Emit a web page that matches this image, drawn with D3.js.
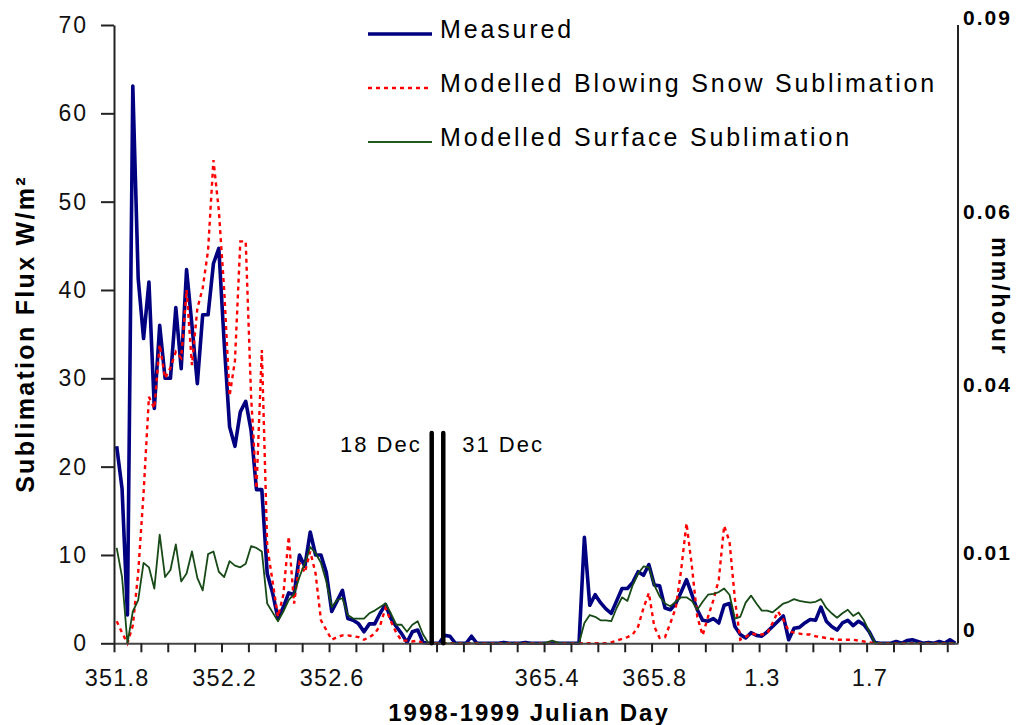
<!DOCTYPE html>
<html>
<head>
<meta charset="utf-8">
<script src="https://cdn.jsdelivr.net/npm/d3@7"></script>
<style>
  body { margin: 0; background: #fff; }
  svg { display: block; font-family: "Liberation Sans", Arial, sans-serif; }
</style>
</head>
<body>
<svg id="chart" width="1016" height="725"></svg>
<script>
// Half-hourly sublimation flux (W/m²), one value per category
const measured = [
  22.3, 17.5, 3.2, 63.1, 41.3, 34.5, 40.9, 26.6, 36.0, 30.0,
  30.0, 38.0, 31.1, 42.3, 36.0, 29.4, 37.2, 37.2, 43.0, 44.7,
  34.0, 24.5, 22.3, 26.2, 27.4, 24.1, 17.4, 17.4, 7.9, 5.7,
  2.8, 4.1, 5.7, 5.5, 10.0, 8.7, 12.6, 10.0, 10.0, 8.0,
  3.6, 4.8, 6.0, 2.8, 2.6, 2.2, 1.3, 2.2, 2.2, 3.4,
  4.4, 2.8, 1.9, 1.1, 0.1, 1.3, 1.5, 0.1, 0, 0,
  0, 0.9, 0.8, 0, 0, 0, 0.8, 0, 0, 0,
  0, 0, 0.1, 0, 0, 0, 0.1, 0, 0, 0,
  0, 0, 0, 0, 0, 0, 0, 12.0, 4.3, 5.5,
  4.6, 3.9, 3.4, 4.8, 6.2, 6.2, 6.9, 8.1, 7.7, 8.9,
  6.6, 6.5, 4.0, 3.8, 4.5, 5.8, 7.2, 5.5, 3.8, 2.6,
  2.5, 2.8, 2.3, 4.3, 4.5, 1.9, 1.0, 0.6, 1.2, 0.9,
  0.8, 1.3, 1.9, 2.5, 3.1, 0.4, 1.7, 1.8, 2.3, 2.7,
  2.6, 4.1, 2.5, 1.9, 1.5, 2.3, 2.6, 2.0, 2.5, 2.1,
  1.3, 0.1, 0, 0, 0, 0.2, 0, 0.3, 0.4, 0.2,
  0, 0.1, 0, 0.2, 0, 0.4, 0
];

const blowingSnow = [
  2.5, 1.2, 0, 2.0, 8.0, 17.0, 27.9, 26.6, 33.8, 30.0,
  31.2, 33.0, 32.3, 40.0, 31.5, 37.9, 40.2, 44.5, 54.7, 49.0,
  40.0, 28.0, 32.0, 45.5, 45.5, 28.0, 17.5, 33.2, 11.0, 7.0,
  3.0, 5.5, 12.1, 4.5, 9.1, 8.0, 10.4, 7.9, 2.6, 1.5,
  0.4, 0.7, 0.9, 0.9, 0.8, 0.7, 0.4, 0.7, 1.1, 2.0,
  4.0, 2.5, 1.2, 0.3, 0.3, 0.2, 0.3, 0, 0, 0,
  0, 0, 0, 0, 0, 0, 0, 0, 0, 0,
  0, 0, 0, 0, 0, 0, 0, 0, 0, 0,
  0, 0, 0, 0, 0, 0, 0, 0, 0, 0,
  0, 0, 0.1, 0.3, 0.5, 0.7, 1.0, 1.9, 4.0, 5.7,
  1.9, 0.6, 0.7, 2.3, 4.0, 8.3, 13.6, 8.7, 3.0, 0.9,
  3.0, 4.9, 7.2, 13.3, 11.5, 5.0, 0.4, 0.7, 1.1, 1.0,
  1.0, 1.1, 2.3, 3.6, 2.7, 1.4, 1.2, 1.1, 1.0, 1.0,
  0.8, 0.7, 0.6, 0.5, 0.4, 0.4, 0.4, 0.4, 0.3, 0.2,
  0.1, 0, 0, 0, 0, 0, 0, 0, 0, 0,
  0, 0, 0, 0, 0, 0, 0
];

const surface = [
  10.8, 7.5, 0, 3.6, 4.9, 9.1, 8.6, 6.2, 12.3, 7.5,
  8.3, 11.2, 7.0, 7.9, 10.4, 7.4, 6.0, 10.1, 10.4, 8.1,
  7.5, 9.3, 8.8, 8.6, 9.0, 11.0, 10.8, 10.4, 4.5, 3.5,
  2.5, 3.6, 4.9, 5.6, 7.5, 9.1, 10.9, 10.2, 9.1, 7.0,
  4.1, 4.9, 5.1, 3.2, 2.8, 2.8, 2.8, 3.4, 3.7, 4.1,
  4.5, 3.4, 2.1, 2.1, 1.3, 2.1, 2.5, 1.0, 0, 0,
  0, 0, 0, 0, 0, 0, 0, 0, 0, 0,
  0, 0, 0, 0, 0, 0, 0, 0, 0, 0,
  0.1, 0.3, 0.1, 0, 0, 0, 0, 2.3, 3.2, 3.0,
  2.6, 2.6, 2.5, 4.0, 5.2, 4.8, 6.6, 7.9, 8.7, 8.6,
  6.6, 5.3, 4.5, 4.2, 4.7, 5.2, 5.2, 4.8, 3.8, 4.7,
  5.5, 5.6, 5.8, 6.2, 5.5, 2.8, 3.0, 4.6, 5.4, 4.5,
  3.7, 3.7, 3.5, 4.0, 4.5, 4.7, 5.0, 4.8, 4.7, 4.6,
  4.7, 5.0, 4.0, 3.4, 2.9, 3.4, 3.8, 3.1, 3.5, 2.6,
  1.3, 0.1, 0, 0, 0, 0, 0, 0, 0, 0,
  0, 0, 0, 0, 0, 0, 0
];

const seriesNames = ["Measured", "Modelled Blowing Snow Sublimation", "Modelled Surface Sublimation"];

// Julian-day labels on the category axis (every 20th half-hour, none across the break)
const labelIndex = [0, 20, 40, 80, 100, 120, 140];
const labelText = ["351.8", "352.2", "352.6", "365.4", "365.8", "1.3", "1.7"];

const fluxTicks = [0, 10, 20, 30, 40, 50, 60, 70];
// mm/hour labels and the flux level each one is set against
const rateTicks = [0, 0.01, 0.04, 0.06, 0.09];
const rateFlux = [1.5, 10.2, 29.3, 48.8, 70.8];

// Gap in the record between 18 Dec and 31 Dec (category units) and its marker height (W/m²)
const breakAt = [59.1, 61.25];
const breakTop = 23.8;
const breakText = ["18 Dec", "31 Dec"];

const svg = d3.select("#chart");
const n = measured.length;

const x = d3.scaleLinear().domain([0, n]).range([114, 958]);
const y = d3.scaleLinear().domain([0, 70]).range([643.3, 25]);
const yRate = d3.scaleLinear().domain(rateTicks).range(rateFlux.map(y));

const line = d3.line().x((d, i) => x(i + 0.5)).y(d => y(d));

// series (later ones sit on top)
svg.append("path").datum(measured)
  .attr("fill", "none").attr("stroke", "#000080").attr("stroke-width", 3.6)
  .attr("stroke-linejoin", "round").attr("d", line);
svg.append("path").datum(blowingSnow)
  .attr("fill", "none").attr("stroke", "#ff0000").attr("stroke-width", 2.4)
  .attr("stroke-dasharray", "4,4").attr("d", line);
svg.append("path").datum(surface)
  .attr("fill", "none").attr("stroke", "#174a17").attr("stroke-width", 1.8)
  .attr("stroke-linejoin", "round").attr("d", line);

// left axis
const gL = svg.append("g").attr("transform", `translate(${x(0)},0)`)
  .call(d3.axisLeft(y).tickValues(fluxTicks).tickSize(13).tickSizeOuter(0).tickPadding(13));
gL.select(".domain").attr("stroke", "#222").attr("stroke-width", 2);
gL.selectAll(".tick line").attr("stroke", "#222").attr("stroke-width", 2);
gL.selectAll(".tick text").attr("font-size", 23).attr("letter-spacing", 2)
  .attr("fill", "#111").attr("font-family", "Liberation Sans, Arial, sans-serif");

// bottom axis: tick every 5 categories
const gB = svg.append("g").attr("transform", `translate(0,${y(0)})`)
  .call(d3.axisBottom(x).tickValues(d3.range(0, n, 5)).tickSize(9).tickSizeOuter(0).tickFormat(""));
gB.select(".domain").attr("stroke", "#444").attr("stroke-width", 2);
gB.selectAll(".tick line").attr("stroke", "#222").attr("stroke-width", 2);

// category labels
const gBL = svg.append("g").attr("transform", `translate(0,${y(0)})`)
  .call(d3.axisBottom(x).tickValues(labelIndex.map(i => i + 0.5))
    .tickFormat((d, i) => labelText[i]).tickSize(0).tickPadding(26));
gBL.select(".domain").remove();
gBL.selectAll(".tick text").attr("font-size", 23.5).attr("letter-spacing", 1.2)
  .attr("fill", "#111").attr("font-family", "Liberation Sans, Arial, sans-serif");

// right axis (mm/hour)
svg.append("line").attr("x1", x(n)).attr("x2", x(n)).attr("y1", y(70)).attr("y2", y(0))
  .attr("stroke", "#222").attr("stroke-width", 2);
const gR = svg.append("g").attr("transform", `translate(${x(n)},0)`)
  .call(d3.axisRight(yRate).tickValues(rateTicks).tickSize(0).tickPadding(5)
    .tickFormat(d => d === 0 ? "0" : d3.format(".2f")(d)));
gR.select(".domain").remove();
gR.selectAll(".tick text").attr("font-size", 21).attr("font-weight", "bold").attr("letter-spacing", 2)
  .attr("fill", "#000").attr("font-family", "Liberation Sans, Arial, sans-serif");

// axis titles
svg.append("text").attr("x", 529).attr("y", 721).attr("text-anchor", "middle")
  .attr("font-size", 24).attr("font-weight", "bold").attr("letter-spacing", 2)
  .text("1998-1999 Julian Day");
svg.append("text").attr("transform", "translate(34,334) rotate(-90)").attr("text-anchor", "middle")
  .attr("font-size", 25).attr("font-weight", "bold").attr("letter-spacing", 2.3)
  .text("Sublimation Flux W/m²");
svg.append("text").attr("transform", "translate(992,297) rotate(90)").attr("text-anchor", "middle")
  .attr("font-size", 23).attr("font-weight", "bold").attr("letter-spacing", 3)
  .text("mm/hour");

// record break marker
svg.selectAll(".break").data(breakAt).enter().append("line")
  .attr("x1", d => x(d)).attr("x2", d => x(d))
  .attr("y1", y(breakTop)).attr("y2", y(0))
  .attr("stroke", "#000").attr("stroke-width", 4.5).attr("stroke-linecap", "round");
svg.append("text").attr("x", x(breakAt[0]) - 10).attr("y", y(breakTop) + 19)
  .attr("text-anchor", "end").attr("font-size", 22).attr("letter-spacing", 2).text(breakText[0]);
svg.append("text").attr("x", x(breakAt[1]) + 19).attr("y", y(breakTop) + 19)
  .attr("text-anchor", "start").attr("font-size", 22).attr("letter-spacing", 2).text(breakText[1]);

// legend
const legendStyle = [
  { color: "#000080", width: 3.6, dash: null },
  { color: "#ff0000", width: 2.4, dash: "4,4" },
  { color: "#1f5a1f", width: 2, dash: null }
];
const lg = svg.append("g").attr("transform", "translate(368,0)");
seriesNames.forEach((name, i) => {
  const yy = 34 + i * 54;
  lg.append("line").attr("x1", 0).attr("x2", 64).attr("y1", yy).attr("y2", yy)
    .attr("stroke", legendStyle[i].color).attr("stroke-width", legendStyle[i].width)
    .attr("stroke-dasharray", legendStyle[i].dash);
  lg.append("text").attr("x", 72).attr("y", yy + 4).attr("font-size", 25)
    .attr("letter-spacing", 2.85).attr("fill", "#000").text(name);
});
</script>
</body>
</html>
